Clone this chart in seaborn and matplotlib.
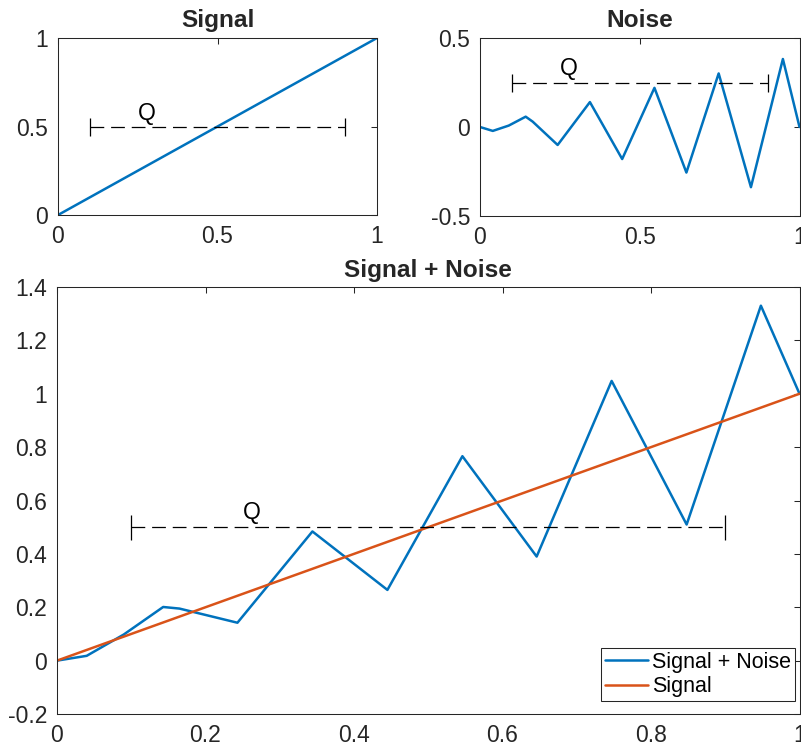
import matplotlib
matplotlib.use("Agg")
import matplotlib.pyplot as plt
from matplotlib.ticker import FuncFormatter
import seaborn as sns
import pandas as pd

# sample points (vertices of the noise zig-zag)
t = [0.000, 0.040, 0.090, 0.143, 0.165, 0.243, 0.344, 0.445, 0.546,
     0.646, 0.747, 0.848, 0.948, 1.000]
signal = [0.000, 0.040, 0.090, 0.143, 0.165, 0.243, 0.344, 0.445, 0.546,
          0.646, 0.747, 0.848, 0.948, 1.000]
noise = [0.000, -0.022, 0.008, 0.058, 0.030, -0.101, 0.140, -0.180, 0.220,
         -0.256, 0.301, -0.338, 0.382, 0.000]

# the "Q" interval drawn on each panel
q_span = [0.1, 0.9]
q_level_signal = 0.5
q_level_noise = 0.25
q_level_sum = 0.5

signal_ticks = [0, 0.5, 1]
noise_ticks = [-0.5, 0, 0.5]
sum_xticks = [0, 0.2, 0.4, 0.6, 0.8, 1]
sum_yticks = [-0.2, 0, 0.2, 0.4, 0.6, 0.8, 1, 1.2, 1.4]

BLUE = "#0072BD"
ORANGE = "#D95319"
GREY = "#262626"

df = pd.DataFrame({"t": t, "signal": signal, "noise": noise})
df["sum"] = df["signal"] + df["noise"]

sns.set_style("white")
plt.rcParams["font.family"] = ["Liberation Sans", "DejaVu Sans"]
plt.rcParams["axes.linewidth"] = 0.75
plt.rcParams["axes.edgecolor"] = GREY

W, H = 801, 751
fig = plt.figure(figsize=(W / 100, H / 100), dpi=100)
ax1 = fig.add_axes([58 / W, (H - 215) / H, (377 - 58) / W, (215 - 38) / H])
ax2 = fig.add_axes([480 / W, (H - 216) / H, (799.5 - 480) / W, (216 - 38) / H])
ax3 = fig.add_axes([57 / W, (H - 714) / H, (799.5 - 57) / W, (714 - 287) / H])

fmt = FuncFormatter(lambda v, p: f"{v:g}")


def style(ax, title, xticks, yticks, xlim, ylim, pad=8):
    ax.set_xlim(xlim)
    ax.set_ylim(ylim)
    ax.set_xticks(xticks)
    ax.set_yticks(yticks)
    ax.xaxis.set_major_formatter(fmt)
    ax.yaxis.set_major_formatter(fmt)
    ax.tick_params(direction="in", top=True, right=True, length=4.5, width=0.75,
                   color=GREY, labelcolor=GREY, labelsize=16.5, pad=7)
    for s in ax.spines.values():
        s.set_visible(True)
        s.set_color(GREY)
    ax.set_title(title, fontsize=17.6, fontweight="bold", pad=pad)
    ax.set_xlabel("")
    ax.set_ylabel("")


def q_marker(ax, level, text_y, cap):
    ax.plot(q_span, [level, level], color="k", lw=0.9, ls=(0, (11, 5.5)))
    ax.plot(q_span, [level, level], color="k", ls="none", marker="|", ms=cap, mew=0.9)
    ax.text(0.25, text_y, "Q", fontsize=16.5, ha="left", va="center", color="k")


# Signal
sns.lineplot(data=df, x="t", y="signal", ax=ax1, color=BLUE, linewidth=1.8, sort=False)
q_marker(ax1, q_level_signal, 0.575, 13)
style(ax1, "Signal", signal_ticks, signal_ticks, (0, 1), (0, 1))

# Noise
sns.lineplot(data=df, x="t", y="noise", ax=ax2, color=BLUE, linewidth=1.8, sort=False)
q_marker(ax2, q_level_noise, 0.33, 13)
style(ax2, "Noise", signal_ticks, noise_ticks, (0, 1), (-0.5, 0.5))

# Signal + Noise
sns.lineplot(data=df, x="t", y="sum", ax=ax3, color=BLUE, linewidth=1.8,
             sort=False, label="Signal + Noise")
sns.lineplot(data=df, x="t", y="signal", ax=ax3, color=ORANGE, linewidth=1.8,
             sort=False, label="Signal")
q_marker(ax3, q_level_sum, 0.555, 18)
style(ax3, "Signal + Noise", sum_xticks, sum_yticks, (0, 1), (-0.2, 1.4), pad=7.5)

leg = ax3.legend(loc="lower right", bbox_to_anchor=(0.9933, 0.0304), borderaxespad=0,
                 frameon=True, fancybox=False, framealpha=1, edgecolor=GREY,
                 handlelength=2.0, handletextpad=0.15, labelspacing=0.16,
                 borderpad=0.18, fontsize=15.5)
leg.get_frame().set_linewidth(0.75)
for txt in leg.get_texts():
    txt.set_color("k")

fig.savefig("out.png", dpi=100)
